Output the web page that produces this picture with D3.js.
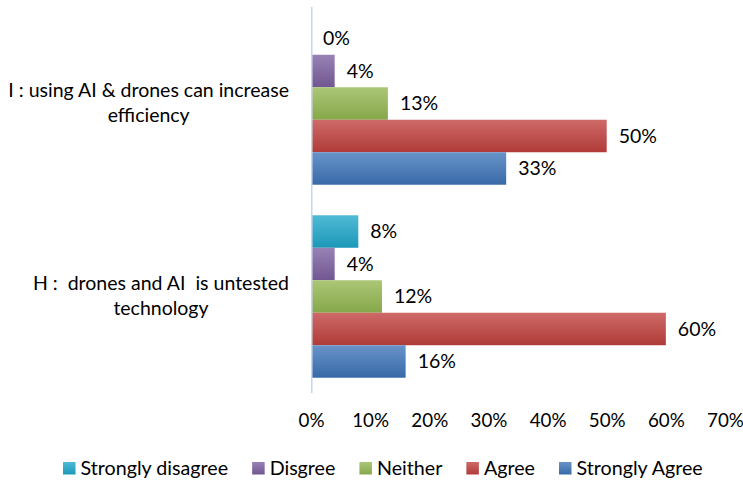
<!DOCTYPE html>
<html>
<head>
<meta charset="utf-8">
<script src="https://cdn.jsdelivr.net/npm/d3@7/dist/d3.min.js"></script>
<style>
  html, body { margin: 0; padding: 0; background: #fff; }
  svg { display: block; }
  text { font-family: Lato, "Open Sans", sans-serif; fill: #000; white-space: pre; }
</style>
</head>
<body>
<svg id="chart" width="743" height="481"></svg>
<script>
// Survey statements (top to bottom) and their wrapped label lines
const categories = ["I", "H"];
const categoryLines = [
  ["I : using AI & drones can increase", "efficiency"],
  ["H :  drones and AI  is untested", "technology"]
];

// Response options, in the order the bars are stacked inside each group
const series = ["Strongly disagree", "Disgree", "Neither", "Agree", "Strongly Agree"];

// Percentages per statement [I, H]
const stronglyDisagree = [0, 8];
const disgree = [4, 4];
const neither = [13, 12];
const agree = [50, 60];
const stronglyAgree = [33, 16];

const xTicks = [0, 10, 20, 30, 40, 50, 60, 70];

const seriesValues = [stronglyDisagree, disgree, neither, agree, stronglyAgree];
const seriesColors = ["#1fa6c9", "#7b5f9f", "#93b751", "#c0403d", "#3d74b8"];

const svg = d3.select("#chart");
const W = 743, H = 481;
const margin = { top: 7, right: 18, bottom: 88, left: 311 };
const plotW = W - margin.left - margin.right;
const plotH = H - margin.top - margin.bottom;

const FS = 19.5;
const TICK_FS = 18.8;
const LEGEND_FS = 19.7;

// Vertical gradients: lighter at the top edge of each bar
const defs = svg.append("defs");
seriesColors.forEach((c, i) => {
  const base = d3.color(c);
  const g = defs.append("linearGradient")
    .attr("id", "grad" + i)
    .attr("x1", 0).attr("y1", 0).attr("x2", 0).attr("y2", 1);
  g.append("stop").attr("offset", "0%")
    .attr("stop-color", d3.interpolateRgb(c, "#ffffff")(0.22));
  g.append("stop").attr("offset", "100%")
    .attr("stop-color", base.darker(0.25));
});

const g = svg.append("g").attr("transform", `translate(${margin.left},${margin.top})`);

const x = d3.scaleLinear().domain([0, 70]).range([0, plotW]);
const y0 = d3.scaleBand().domain(categories).range([0, plotH]).padding(0);
const y1 = d3.scaleBand().domain(series).range([0, y0.bandwidth()])
  .paddingInner(0).paddingOuter(0.47);

// Bars with value labels
categories.forEach((cat, ci) => {
  const grp = g.append("g").attr("transform", `translate(0,${y0(cat)})`);
  series.forEach((s, si) => {
    const v = seriesValues[si][ci];
    grp.append("rect")
      .attr("x", x(0))
      .attr("y", y1(s))
      .attr("width", x(v) - x(0))
      .attr("height", y1.bandwidth())
      .attr("fill", `url(#grad${si})`);
    grp.append("text")
      .attr("x", x(v) + 12)
      .attr("y", y1(s) + y1.bandwidth() / 2)
      .attr("dy", "0.35em")
      .attr("font-size", FS)
      .text(v + "%");
  });
});

// Category axis line
g.append("line")
  .attr("x1", 0.75).attr("x2", 0.75)
  .attr("y1", 0).attr("y2", plotH)
  .attr("stroke", "#c6d7ee")
  .attr("stroke-width", 1.6);

// Category labels, each block right-aligned to the axis with lines centred inside it
categories.forEach((cat, ci) => {
  const lines = categoryLines[ci];
  const cy = y0(cat) + y0.bandwidth() / 2;
  const lineH = 25;
  const blk = g.append("g");
  const texts = lines.map((ln, li) => blk.append("text")
    .attr("font-size", FS)
    .attr("text-anchor", "middle")
    .attr("y", cy + (li - (lines.length - 1) / 2) * lineH)
    .attr("dy", "0.3em")
    .text(ln));
  const widths = texts.map(t => t.node().getComputedTextLength());
  const blockW = d3.max(widths);
  const right = -22;
  texts.forEach(t => t.attr("x", right - blockW / 2));
});

// Value axis
const xAxis = d3.axisBottom(x)
  .tickValues(xTicks)
  .tickFormat(d => d + "%")
  .tickSize(0)
  .tickPadding(0);
const ax = g.append("g").attr("transform", `translate(0,${plotH})`).call(xAxis);
ax.select(".domain").remove();
ax.selectAll("text")
  .attr("font-size", TICK_FS)
  .attr("font-family", "Lato, 'Open Sans', sans-serif")
  .attr("fill", "#000")
  .attr("dy", null)
  .attr("y", 34);

// Legend
const legend = svg.append("g").attr("transform", "translate(63,462)");
let lx = 0;
series.forEach((s, si) => {
  const item = legend.append("g").attr("transform", `translate(${lx},0)`);
  item.append("rect")
    .attr("width", 12.5).attr("height", 12.5)
    .attr("fill", `url(#grad${si})`);
  const t = item.append("text")
    .attr("x", 17.5)
    .attr("y", 6.25)
    .attr("dy", "0.35em")
    .attr("font-size", LEGEND_FS)
    .text(s);
  lx += 17.5 + t.node().getComputedTextLength() + 24;
});
</script>
</body>
</html>
